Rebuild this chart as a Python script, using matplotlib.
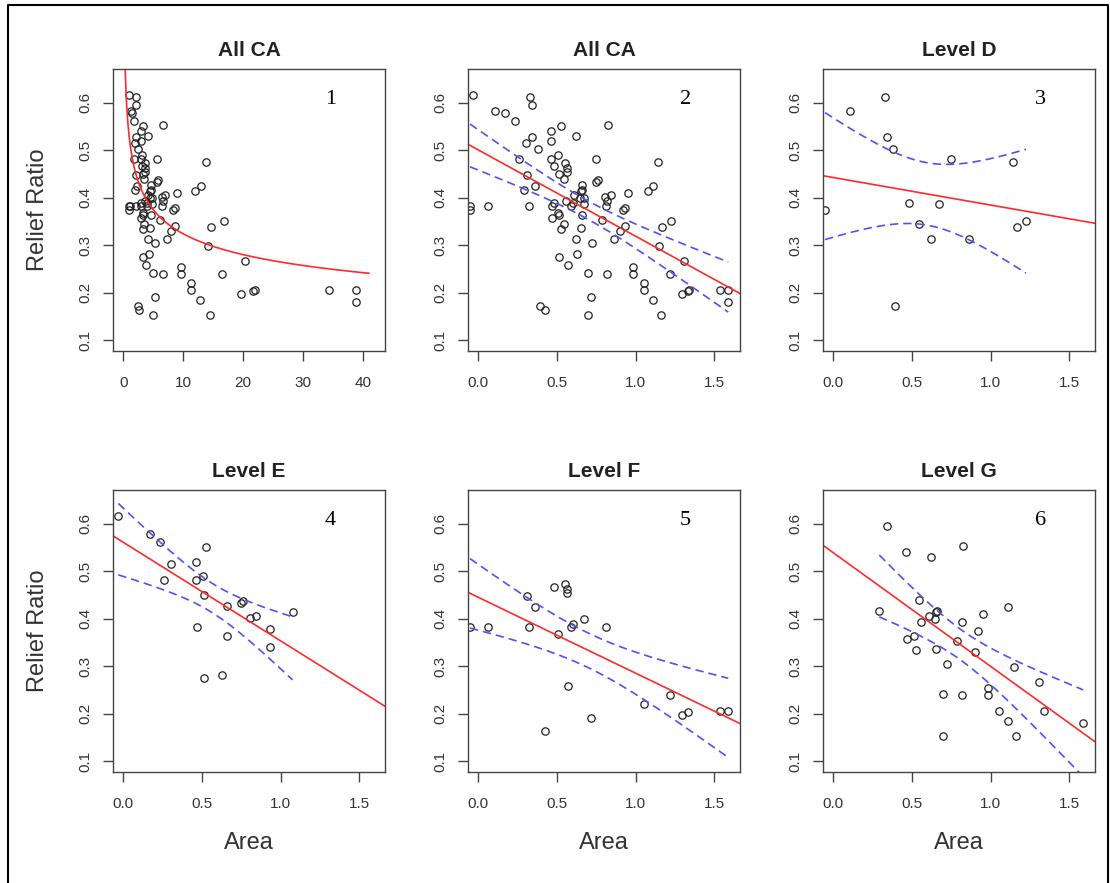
import numpy as np
import matplotlib.pyplot as plt
from matplotlib.lines import Line2D

plt.rcParams['font.family'] = ['Liberation Sans', 'DejaVu Sans']

level_d_x = [-0.053, 0.106, 0.328, 0.339, 0.381, 0.392, 0.481, 0.544, 0.621, 0.672,
             0.746, 0.860, 1.140, 1.165, 1.225]
level_d_y = [0.373, 0.583, 0.613, 0.527, 0.503, 0.172, 0.389, 0.344, 0.313, 0.386,
             0.482, 0.313, 0.475, 0.339, 0.351]

level_e_x = [-0.032, 0.169, 0.233, 0.303, 0.261, 0.462, 0.523, 0.460, 0.504, 0.513,
             0.657, 0.750, 0.762, 0.805, 0.841, 0.932, 0.932, 1.076, 0.470, 0.657,
             0.515, 0.629]
level_e_y = [0.617, 0.578, 0.561, 0.515, 0.482, 0.519, 0.550, 0.482, 0.489, 0.450,
             0.426, 0.433, 0.437, 0.401, 0.406, 0.378, 0.340, 0.413, 0.382, 0.364,
             0.274, 0.281]

level_f_x = [-0.053, 0.064, 0.307, 0.360, 0.322, 0.483, 0.551, 0.561, 0.564, 0.508,
             0.589, 0.604, 0.674, 0.811, 0.572, 0.424, 0.716, 1.053, 1.218, 1.292,
             1.335, 1.536, 1.589]
level_f_y = [0.382, 0.382, 0.448, 0.424, 0.382, 0.466, 0.473, 0.463, 0.455, 0.368,
             0.382, 0.389, 0.399, 0.382, 0.258, 0.163, 0.191, 0.221, 0.240, 0.198,
             0.203, 0.206, 0.205]

level_g_x = [0.339, 0.462, 0.621, 0.826, 0.292, 0.544, 0.657, 0.653, 0.608, 0.646,
             0.557, 0.820, 0.953, 1.112, 0.922, 0.515, 0.470, 0.523, 0.650, 0.784,
             0.900, 0.720, 1.150, 1.307, 0.699, 0.816, 0.985, 0.985, 1.055, 1.108,
             1.161, 0.699, 1.341, 1.589]
level_g_y = [0.596, 0.541, 0.529, 0.554, 0.417, 0.440, 0.417, 0.413, 0.406, 0.399,
             0.392, 0.392, 0.410, 0.424, 0.375, 0.364, 0.357, 0.333, 0.336, 0.353,
             0.329, 0.304, 0.298, 0.267, 0.242, 0.240, 0.253, 0.240, 0.205, 0.184,
             0.153, 0.153, 0.205, 0.181]

titles = ['All CA', 'All CA', 'Level D', 'Level E', 'Level F', 'Level G']
panel_labels = ['1', '2', '3', '4', '5', '6']

# fitted lines as drawn (intercept, slope vs log10 area), panels 2-6
fit_intercept = [0.5004, 0.4423, 0.5607, 0.4448, 0.5387]
fit_slope = [-0.1817, -0.0579, -0.2075, -0.1597, -0.2392]
# panel 1 curve: rr = c * area ** m
power_c = 0.525
power_m = -0.21

all_x = np.array(level_d_x + level_e_x + level_f_x + level_g_x)
all_y = np.array(level_d_y + level_e_y + level_f_y + level_g_y)
area = 10 ** all_x


def t975(df):
    # Cornish-Fisher expansion of the t quantile
    z = 1.959964
    g1 = (z**3 + z) / 4
    g2 = (5*z**5 + 16*z**3 + 3*z) / 96
    g3 = (3*z**7 + 19*z**5 + 17*z**3 - 15*z) / 384
    return z + g1/df + g2/df**2 + g3/df**3


def conf_band(x, y, a, b):
    x = np.asarray(x)
    y = np.asarray(y)
    n = len(x)
    s = np.sqrt(np.sum((y - (a + b*x))**2) / (n - 2))
    xs = np.linspace(x.min(), x.max(), 200)
    half = t975(n - 2) * s * np.sqrt(1/n + (xs - x.mean())**2 / np.sum((x - x.mean())**2))
    return xs, a + b*xs - half, a + b*xs + half


def style(ax, xlim, xticks, labels):
    ax.set_xlim(xlim)
    ax.set_ylim(0.078, 0.672)
    ax.set_xticks(xticks)
    ax.set_xticklabels(labels)
    ax.set_yticks([0.1, 0.2, 0.3, 0.4, 0.5, 0.6])
    ax.set_yticklabels(['0.1', '0.2', '0.3', '0.4', '0.5', '0.6'])
    ax.tick_params(direction='out', length=7.2, width=1, color='#444444',
                   labelsize=11, labelcolor='#333333')
    ax.tick_params(axis='x', pad=11)
    ax.tick_params(axis='y', pad=8, labelrotation=90)
    for lab in ax.get_yticklabels():
        lab.set_va('center')
    for sp in ax.spines.values():
        sp.set_color('#444444')
        sp.set_linewidth(1)


fig = plt.figure(figsize=(11.1, 8.83), dpi=100)

lefts = [113.3 / 1110, 468.3 / 1110, 823.3 / 1110]
bottoms = [1 - 350.5 / 883, 1 - 771.5 / 883]
w = 271.7 / 1110
h = 282 / 883

axes = []
for r in range(2):
    for c in range(3):
        axes.append(fig.add_axes([lefts[c], bottoms[r], w, h]))

pt = dict(ls='none', marker='o', mfc='none', mec='#222222', ms=5.3, mew=0.9)
red = dict(color='#ff2a2a', lw=1.2)
blue = dict(color='#5050ff', lw=1.2, ls='--', dashes=(5, 3))

# panel 1: raw area with power curve
ax = axes[0]
ax.plot(area, all_y, **pt)
xs = np.linspace(0.05, 41, 400)
ax.plot(xs, power_c * xs ** power_m, **red)
style(ax, (-1.68, 43.68), [0, 10, 20, 30, 40], ['0', '10', '20', '30', '40'])

# panels 2-6: log area with linear fit and 95% band
sets = [(all_x, all_y), (level_d_x, level_d_y), (level_e_x, level_e_y),
        (level_f_x, level_f_y), (level_g_x, level_g_y)]
for i, (x, y) in enumerate(sets):
    ax = axes[i + 1]
    ax.plot(x, y, **pt)
    a, b = fit_intercept[i], fit_slope[i]
    ax.axline((0, a), slope=b, **red)
    xs, lo, hi = conf_band(x, y, a, b)
    ax.plot(xs, lo, **blue)
    ax.plot(xs, hi, **blue)
    style(ax, (-0.064, 1.664), [0.0, 0.5, 1.0, 1.5], ['0.0', '0.5', '1.0', '1.5'])

for ax, t, n in zip(axes, titles, panel_labels):
    ax.set_title(t, fontsize=15, fontweight='bold', color='#222222', pad=9)
    ax.text(0.80, 0.89, n, transform=ax.transAxes, ha='center', va='center',
            fontsize=16, family='Liberation Serif', color='black')

# axis labels only on outer panels
for b in bottoms:
    fig.text(38 / 1110, b + h / 2, 'Relief Ratio', rotation=90, ha='center',
             va='center', fontsize=17, color='#333333')
for l in lefts:
    fig.text(l + w / 2, 1 - 843 / 883, 'Area', ha='center', va='center',
             fontsize=17, color='#333333')

# outer frame
fx0, fx1, fy1 = 8 / 1110, 1108 / 1110, 1 - 5 / 883
fig.add_artist(Line2D([fx0, fx0, fx1, fx1], [0, fy1, fy1, 0],
                      transform=fig.transFigure, color='black', lw=1.5))

fig.savefig('out.png', dpi=100)
